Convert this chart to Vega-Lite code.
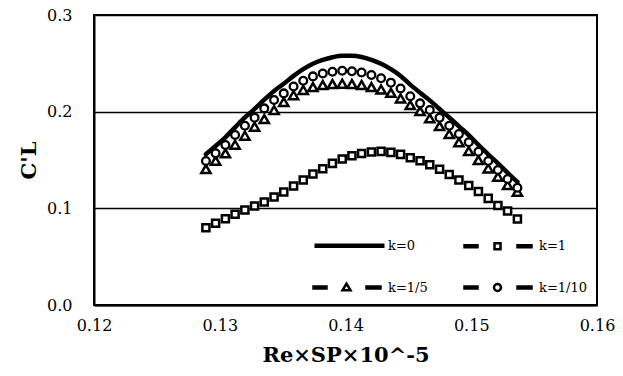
{
  "$schema": "https://vega.github.io/schema/vega-lite/v6.json",
  "width": 503,
  "height": 290,
  "autosize": {"type": "none"},
  "padding": {"left": 94, "top": 15, "right": 26, "bottom": 71},
  "background": "white",
  "config": {
    "view": {"stroke": "black", "strokeWidth": 2},
    "font": "DejaVu Serif"
  },
  "data": {"values": [
    {"x":0.12890,"y":0.1560,"k":"k=0"},{"x":0.12967,"y":0.1645,"k":"k=0"},{"x":0.13045,"y":0.1735,"k":"k=0"},{"x":0.13122,"y":0.1838,"k":"k=0"},{"x":0.13200,"y":0.1940,"k":"k=0"},{"x":0.13277,"y":0.2028,"k":"k=0"},{"x":0.13354,"y":0.2124,"k":"k=0"},{"x":0.13432,"y":0.2215,"k":"k=0"},{"x":0.13509,"y":0.2289,"k":"k=0"},{"x":0.13587,"y":0.2370,"k":"k=0"},{"x":0.13664,"y":0.2440,"k":"k=0"},{"x":0.13741,"y":0.2495,"k":"k=0"},{"x":0.13819,"y":0.2535,"k":"k=0"},{"x":0.13896,"y":0.2563,"k":"k=0"},{"x":0.13974,"y":0.2578,"k":"k=0"},{"x":0.14051,"y":0.2578,"k":"k=0"},{"x":0.14128,"y":0.2565,"k":"k=0"},{"x":0.14206,"y":0.2535,"k":"k=0"},{"x":0.14283,"y":0.2495,"k":"k=0"},{"x":0.14361,"y":0.2440,"k":"k=0"},{"x":0.14438,"y":0.2370,"k":"k=0"},{"x":0.14515,"y":0.2280,"k":"k=0"},{"x":0.14593,"y":0.2196,"k":"k=0"},{"x":0.14670,"y":0.2117,"k":"k=0"},{"x":0.14748,"y":0.2027,"k":"k=0"},{"x":0.14825,"y":0.1940,"k":"k=0"},{"x":0.14902,"y":0.1848,"k":"k=0"},{"x":0.14980,"y":0.1758,"k":"k=0"},{"x":0.15057,"y":0.1656,"k":"k=0"},{"x":0.15135,"y":0.1559,"k":"k=0"},{"x":0.15212,"y":0.1466,"k":"k=0"},{"x":0.15289,"y":0.1368,"k":"k=0"},{"x":0.15367,"y":0.1273,"k":"k=0"},
    {"x":0.12890,"y":0.0800,"k":"k=1"},{"x":0.12967,"y":0.0845,"k":"k=1"},{"x":0.13045,"y":0.0893,"k":"k=1"},{"x":0.13122,"y":0.0938,"k":"k=1"},{"x":0.13200,"y":0.0983,"k":"k=1"},{"x":0.13277,"y":0.1024,"k":"k=1"},{"x":0.13354,"y":0.1065,"k":"k=1"},{"x":0.13432,"y":0.1117,"k":"k=1"},{"x":0.13509,"y":0.1169,"k":"k=1"},{"x":0.13587,"y":0.1231,"k":"k=1"},{"x":0.13664,"y":0.1293,"k":"k=1"},{"x":0.13741,"y":0.1355,"k":"k=1"},{"x":0.13819,"y":0.1410,"k":"k=1"},{"x":0.13896,"y":0.1465,"k":"k=1"},{"x":0.13974,"y":0.1510,"k":"k=1"},{"x":0.14051,"y":0.1544,"k":"k=1"},{"x":0.14128,"y":0.1568,"k":"k=1"},{"x":0.14206,"y":0.1582,"k":"k=1"},{"x":0.14283,"y":0.1589,"k":"k=1"},{"x":0.14361,"y":0.1579,"k":"k=1"},{"x":0.14438,"y":0.1558,"k":"k=1"},{"x":0.14515,"y":0.1523,"k":"k=1"},{"x":0.14593,"y":0.1492,"k":"k=1"},{"x":0.14670,"y":0.1451,"k":"k=1"},{"x":0.14748,"y":0.1405,"k":"k=1"},{"x":0.14825,"y":0.1350,"k":"k=1"},{"x":0.14902,"y":0.1293,"k":"k=1"},{"x":0.14980,"y":0.1237,"k":"k=1"},{"x":0.15057,"y":0.1175,"k":"k=1"},{"x":0.15135,"y":0.1103,"k":"k=1"},{"x":0.15212,"y":0.1030,"k":"k=1"},{"x":0.15289,"y":0.0972,"k":"k=1"},{"x":0.15367,"y":0.0889,"k":"k=1"},
    {"x":0.12890,"y":0.1406,"k":"k=1/5"},{"x":0.12967,"y":0.1492,"k":"k=1/5"},{"x":0.13045,"y":0.1569,"k":"k=1/5"},{"x":0.13122,"y":0.1658,"k":"k=1/5"},{"x":0.13200,"y":0.1751,"k":"k=1/5"},{"x":0.13277,"y":0.1845,"k":"k=1/5"},{"x":0.13354,"y":0.1924,"k":"k=1/5"},{"x":0.13432,"y":0.2017,"k":"k=1/5"},{"x":0.13509,"y":0.2100,"k":"k=1/5"},{"x":0.13587,"y":0.2170,"k":"k=1/5"},{"x":0.13664,"y":0.2225,"k":"k=1/5"},{"x":0.13741,"y":0.2255,"k":"k=1/5"},{"x":0.13819,"y":0.2275,"k":"k=1/5"},{"x":0.13896,"y":0.2285,"k":"k=1/5"},{"x":0.13974,"y":0.2290,"k":"k=1/5"},{"x":0.14051,"y":0.2285,"k":"k=1/5"},{"x":0.14128,"y":0.2275,"k":"k=1/5"},{"x":0.14206,"y":0.2255,"k":"k=1/5"},{"x":0.14283,"y":0.2230,"k":"k=1/5"},{"x":0.14361,"y":0.2195,"k":"k=1/5"},{"x":0.14438,"y":0.2137,"k":"k=1/5"},{"x":0.14515,"y":0.2068,"k":"k=1/5"},{"x":0.14593,"y":0.2006,"k":"k=1/5"},{"x":0.14670,"y":0.1931,"k":"k=1/5"},{"x":0.14748,"y":0.1851,"k":"k=1/5"},{"x":0.14825,"y":0.1768,"k":"k=1/5"},{"x":0.14902,"y":0.1683,"k":"k=1/5"},{"x":0.14980,"y":0.1593,"k":"k=1/5"},{"x":0.15057,"y":0.1499,"k":"k=1/5"},{"x":0.15135,"y":0.1413,"k":"k=1/5"},{"x":0.15212,"y":0.1327,"k":"k=1/5"},{"x":0.15289,"y":0.1241,"k":"k=1/5"},{"x":0.15367,"y":0.1172,"k":"k=1/5"},
    {"x":0.12890,"y":0.1489,"k":"k=1/10"},{"x":0.12967,"y":0.1569,"k":"k=1/10"},{"x":0.13045,"y":0.1655,"k":"k=1/10"},{"x":0.13122,"y":0.1758,"k":"k=1/10"},{"x":0.13200,"y":0.1855,"k":"k=1/10"},{"x":0.13277,"y":0.1938,"k":"k=1/10"},{"x":0.13354,"y":0.2034,"k":"k=1/10"},{"x":0.13432,"y":0.2120,"k":"k=1/10"},{"x":0.13509,"y":0.2189,"k":"k=1/10"},{"x":0.13587,"y":0.2260,"k":"k=1/10"},{"x":0.13664,"y":0.2320,"k":"k=1/10"},{"x":0.13741,"y":0.2365,"k":"k=1/10"},{"x":0.13819,"y":0.2395,"k":"k=1/10"},{"x":0.13896,"y":0.2413,"k":"k=1/10"},{"x":0.13974,"y":0.2423,"k":"k=1/10"},{"x":0.14051,"y":0.2418,"k":"k=1/10"},{"x":0.14128,"y":0.2405,"k":"k=1/10"},{"x":0.14206,"y":0.2380,"k":"k=1/10"},{"x":0.14283,"y":0.2345,"k":"k=1/10"},{"x":0.14361,"y":0.2300,"k":"k=1/10"},{"x":0.14438,"y":0.2240,"k":"k=1/10"},{"x":0.14515,"y":0.2160,"k":"k=1/10"},{"x":0.14593,"y":0.2086,"k":"k=1/10"},{"x":0.14670,"y":0.2017,"k":"k=1/10"},{"x":0.14748,"y":0.1937,"k":"k=1/10"},{"x":0.14825,"y":0.1855,"k":"k=1/10"},{"x":0.14902,"y":0.1768,"k":"k=1/10"},{"x":0.14980,"y":0.1683,"k":"k=1/10"},{"x":0.15057,"y":0.1586,"k":"k=1/10"},{"x":0.15135,"y":0.1489,"k":"k=1/10"},{"x":0.15212,"y":0.1396,"k":"k=1/10"},{"x":0.15289,"y":0.1303,"k":"k=1/10"},{"x":0.15367,"y":0.1213,"k":"k=1/10"}
  ]},
  "encoding": {
    "x": {"field": "x", "type": "quantitative",
      "scale": {"domain": [0.12, 0.16], "nice": false, "zero": false},
      "axis": {"title": "Re×SP×10^-5", "values": [0.12, 0.13, 0.14, 0.15, 0.16], "format": ".2f",
        "grid": false, "ticks": false, "tickSize": 0, "domainColor": "black", "domainWidth": 2,
        "labelFont": "DejaVu Serif", "labelFontSize": 16, "labelColor": "black", "labelPadding": 12,
        "labelFlush": false, "labelOverlap": false,
        "titleFont": "DejaVu Serif", "titleFontSize": 21, "titleFontWeight": "bold", "titleColor": "black", "titlePadding": 11}},
    "y": {"field": "y", "type": "quantitative",
      "scale": {"domain": [0, 0.3], "nice": false},
      "axis": {"title": "C'L", "values": [0, 0.1, 0.2, 0.3], "format": ".1f",
        "grid": true, "gridColor": "black", "gridWidth": 1.5, "gridOpacity": 1,
        "ticks": false, "tickSize": 0, "domainColor": "black", "domainWidth": 2,
        "labelFont": "DejaVu Serif", "labelFontSize": 16, "labelColor": "black", "labelPadding": 22,
        "labelFlush": false, "labelOverlap": false,
        "titleFont": "DejaVu Serif", "titleFontSize": 21, "titleFontWeight": "bold", "titleColor": "black", "titlePadding": 7}}
  },
  "layer": [
    {"transform": [{"filter": "datum.k === 'k=0'"}],
     "mark": {"type": "line", "strokeWidth": 4.5, "strokeCap": "round", "interpolate": "monotone"},
     "encoding": {
       "stroke": {"field": "k", "type": "nominal",
         "scale": {"domain": ["k=0", "k=1", "k=1/5", "k=1/10"], "range": ["black", "black", "black", "black"]},
         "legend": {
           "title": null, "orient": "none", "direction": "horizontal", "legendX": 212, "legendY": 224, "columns": 2,
           "padding": 0, "symbolSize": 100, "symbolOffset": 37, "labelOffset": 32,
           "columnPadding": 29, "rowPadding": 23,
           "labelFont": "DejaVu Serif", "labelFontSize": 13, "labelColor": "black",
           "encode": {"symbols": {"update": {
             "shape": {"signal": "datum.value === 'k=0' ? 'M-35,0H35' : datum.value === 'k=1' ? 'M-36,-1H-23V1H-36Z M17,-1H31V1H17Z M-6,-3H0V3H-6Z' : datum.value === 'k=1/5' ? 'M-36,-1H-23V1H-36Z M17,-1H31V1H17Z M-3,-3.8L1,2.8H-7Z' : 'M-36,-1H-23V1H-36Z M17,-1H31V1H17Z M0.5,0A3.5,3.5 0 1,1 -6.5,0A3.5,3.5 0 1,1 0.5,0Z'"},
             "size": {"value": 4},
             "fill": {"value": "white"},
             "stroke": {"value": "black"},
             "strokeWidth": {"signal": "datum.value === 'k=0' ? 4.5 : 2.5"},
             "strokeDash": {"value": []},
             "opacity": {"value": 1}
           }}}
         }}
     }},
    {"transform": [{"filter": "datum.k === 'k=1'"}],
     "mark": {"type": "point", "shape": "square", "size": 50, "filled": false, "fill": "white", "stroke": "black", "strokeWidth": 2.5, "opacity": 1}},
    {"transform": [{"filter": "datum.k === 'k=1/5'"}],
     "mark": {"type": "point", "shape": "triangle-up", "size": 85, "filled": false, "fill": "white", "stroke": "black", "strokeWidth": 2.5, "opacity": 1}},
    {"transform": [{"filter": "datum.k === 'k=1/10'"}],
     "mark": {"type": "point", "shape": "circle", "size": 60, "filled": false, "fill": "white", "stroke": "black", "strokeWidth": 2.3, "opacity": 1}}
  ]
}
